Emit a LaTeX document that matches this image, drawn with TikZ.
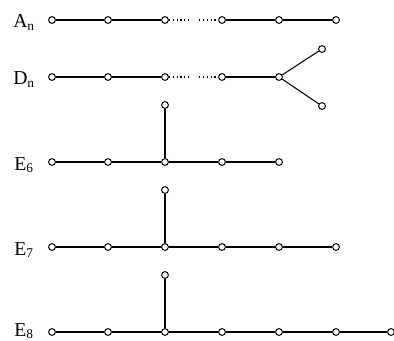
\documentclass[tikz,border=0pt]{standalone}
\usepackage{fontspec}
\setmainfont{Liberation Serif}
\usepackage{tikz}
\usetikzlibrary{positioning}
\tikzset{
  dot/.style  ={circle,draw=black,fill=white,line width=0.7pt,inner sep=0pt,
                minimum size=1.7mm},
  bond/.style ={draw=black,line width=0.75pt},
  gap/.style  ={draw=black,line width=0.75pt,dotted},
  lbl/.style  ={font=\fontsize{14}{16}\selectfont,anchor=base west,inner sep=0pt},
}
\newcommand{\dynkin}[2]{#1\raisebox{-0.3ex}{\fontsize{9.5}{10}\selectfont #2}}

\begin{document}
\begin{tikzpicture}[x=0.025cm,y=-0.025cm]
\useasboundingbox (0,0) rectangle (394,341);
% A_n
\node[lbl] (la) at (13,28) {\dynkin{A}{n}};
\foreach \i/\x in {1/52,2/108,3/165,4/222,5/279,6/336}
  \node[dot] (a\i) at (\x,20) {};
\coordinate (ag1) at (189,20);
\coordinate (ag2) at (199,20);
\draw[bond] (a1) -- (a2);
\draw[bond] (a2) -- (a3);
\draw[gap] (a3) -- (ag1);
\draw[gap] (ag2) -- (a4);
\draw[bond] (a4) -- (a5);
\draw[bond] (a5) -- (a6);
% D_n
\node[lbl] (ld) at (13,85) {\dynkin{D}{n}};
\foreach \i/\x in {1/52,2/108,3/165,4/222,5/279}
  \node[dot] (d\i) at (\x,77) {};
\node[dot] (d6) at (322,49) {};
\node[dot] (d7) at (322,106) {};
\coordinate (dg1) at (189,77);
\coordinate (dg2) at (199,77);
\draw[bond] (d1) -- (d2);
\draw[bond] (d2) -- (d3);
\draw[gap] (d3) -- (dg1);
\draw[gap] (dg2) -- (d4);
\draw[bond] (d4) -- (d5);
\draw[bond] (d5) -- (d6);
\draw[bond] (d5) -- (d7);
% E_6
\node[lbl] (le6) at (14,170) {\dynkin{E}{6}};
\foreach \i/\x in {1/52,2/108,3/165,4/222,5/279}
  \node[dot] (e6\i) at (\x,162) {};
\node[dot] (e6t) at (165,105) {};
\foreach \i/\j in {1/2,2/3,3/4,4/5}
  \draw[bond] (e6\i) -- (e6\j);
\draw[bond] (e63) -- (e6t);
% E_7
\node[lbl] (le7) at (14,255) {\dynkin{E}{7}};
\foreach \i/\x in {1/52,2/108,3/165,4/222,5/279,6/336}
  \node[dot] (e7\i) at (\x,247) {};
\node[dot] (e7t) at (165,190) {};
\foreach \i/\j in {1/2,2/3,3/4,4/5,5/6}
  \draw[bond] (e7\i) -- (e7\j);
\draw[bond] (e73) -- (e7t);
% E_8
\node[lbl] (le8) at (14,336) {\dynkin{E}{8}};
\foreach \i/\x in {1/52,2/108,3/165,4/222,5/279,6/336,7/391}
  \node[dot] (e8\i) at (\x,332) {};
\node[dot] (e8t) at (165,275) {};
\foreach \i/\j in {1/2,2/3,3/4,4/5,5/6,6/7}
  \draw[bond] (e8\i) -- (e8\j);
\draw[bond] (e83) -- (e8t);
\end{tikzpicture}
\end{document}
